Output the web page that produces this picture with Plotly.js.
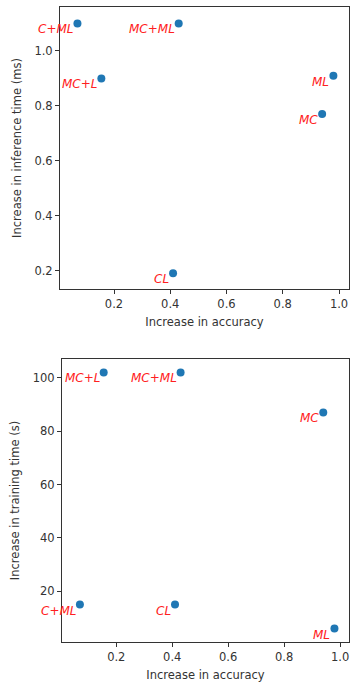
<!DOCTYPE html>
<html>
<head>
<meta charset="utf-8">
<script src="https://cdn.plot.ly/plotly-3.0.1.min.js"></script>
<style>html,body{margin:0;padding:0;background:#fff;}#chart{width:350px;height:684px;}</style>
</head>
<body>
<div id="chart"></div>
<script>
// Data
const methods = ["C+ML", "MC+ML", "MC+L", "ML", "MC", "CL"];
const accuracyIncrease = [0.07, 0.43, 0.155, 0.98, 0.94, 0.41];
const inferenceTimeIncrease = [1.10, 1.10, 0.90, 0.91, 0.77, 0.19];
const trainingTimeIncrease = [15, 102, 102, 6, 87, 15];
const xTickVals = [0.2, 0.4, 0.6, 0.8, 1.0];
const xTickText = ["0.2", "0.4", "0.6", "0.8", "1.0"];
const yTopTickVals = [0.2, 0.4, 0.6, 0.8, 1.0];
const yTopTickText = ["0.2", "0.4", "0.6", "0.8", "1.0"];
const yBotTickVals = [20, 40, 60, 80, 100];
const yBotTickText = ["20", "40", "60", "80", "100"];

const W = 350, H = 684;
const markerColor = "#1f77b4";
const txtColor = "#333333";
const font = {family: "DejaVu Sans", size: 11.5, color: txtColor};

const traces = [
  {x: accuracyIncrease, y: inferenceTimeIncrease, xaxis: "x", yaxis: "y", type: "scatter", mode: "markers",
   marker: {color: markerColor, size: 8}, hoverinfo: "none"},
  {x: accuracyIncrease, y: trainingTimeIncrease, xaxis: "x2", yaxis: "y2", type: "scatter", mode: "markers",
   marker: {color: markerColor, size: 8}, hoverinfo: "none"}
];

const annotations = [];
methods.forEach((m, i) => {
  annotations.push({x: accuracyIncrease[i], y: inferenceTimeIncrease[i], xref: "x", yref: "y",
    text: "<i>" + m + "</i>", showarrow: false, xanchor: "right", yanchor: "middle",
    xshift: -2, yshift: -6, font: {family: "DejaVu Sans", size: 12, color: "#ff2020"}});
  annotations.push({x: accuracyIncrease[i], y: trainingTimeIncrease[i], xref: "x2", yref: "y2",
    text: "<i>" + m + "</i>", showarrow: false, xanchor: "right", yanchor: "middle",
    xshift: -2, yshift: -6, font: {family: "DejaVu Sans", size: 12, color: "#ff2020"}});
});

const axisCommon = {
  showline: true, mirror: true, linecolor: "#333333", linewidth: 1,
  ticks: "outside", ticklen: 4, tickcolor: "#333333", tickwidth: 1,
  showgrid: false, zeroline: false, tickfont: font, fixedrange: true
};

const layout = {
  width: W, height: H,
  margin: {l: 0, r: 0, t: 0, b: 0},
  paper_bgcolor: "#ffffff", plot_bgcolor: "#ffffff",
  showlegend: false,
  font: font,
  xaxis: Object.assign({}, axisCommon, {
    domain: [60 / W, 349 / W], range: [0.008, 1.0355], anchor: "y",
    tickvals: xTickVals, ticktext: xTickText,
    title: {text: "Increase in accuracy", font: font, standoff: 8}
  }),
  yaxis: Object.assign({}, axisCommon, {
    domain: [1 - 289 / H, 1 - 7 / H], range: [0.133, 1.16], anchor: "x",
    tickvals: yTopTickVals, ticktext: yTopTickText,
    title: {text: "Increase in inference time (ms)", font: font, standoff: 10}
  }),
  xaxis2: Object.assign({}, axisCommon, {
    domain: [62 / W, 349 / W], range: [0.006, 1.032], anchor: "y2",
    tickvals: xTickVals, ticktext: xTickText,
    title: {text: "Increase in accuracy", font: font, standoff: 8}
  }),
  yaxis2: Object.assign({}, axisCommon, {
    domain: [1 - 641.7 / H, 1 - 359.3 / H], range: [1.1, 106.9], anchor: "x2",
    tickvals: yBotTickVals, ticktext: yBotTickText,
    title: {text: "Increase in training time (s)", font: font, standoff: 10}
  }),
  annotations: annotations
};

Plotly.newPlot("chart", traces, layout, {displayModeBar: false, staticPlot: true});
</script>
</body>
</html>
